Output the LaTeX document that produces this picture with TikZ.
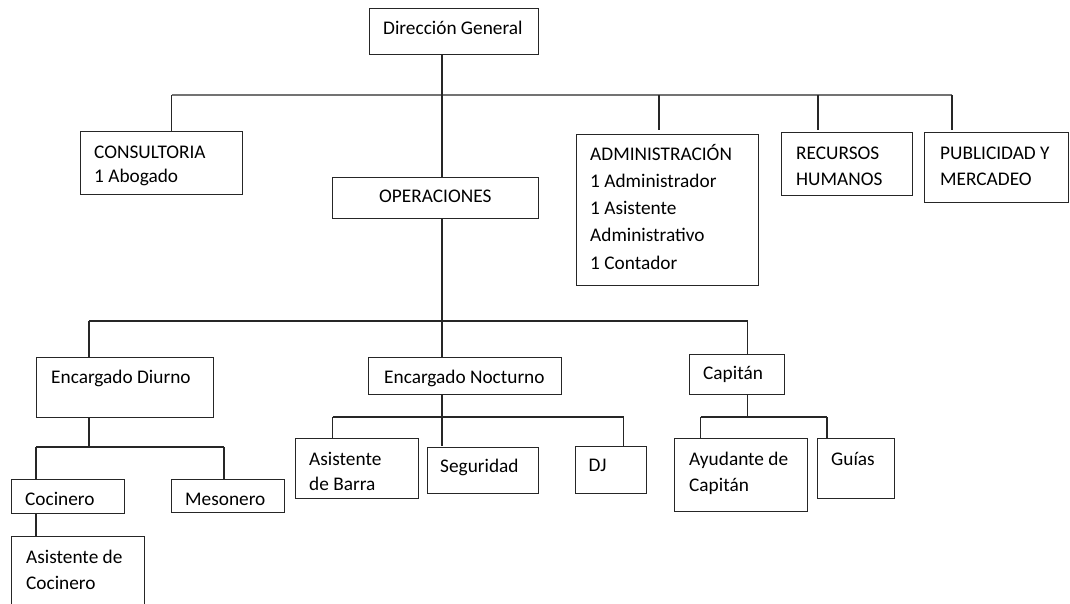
\documentclass[tikz,border=0pt]{standalone}
\usepackage{fontspec}
\setmainfont{Carlito}
\newcommand\orgfs{\fontsize{19.3}{26}\selectfont}
\begin{document}
\begin{tikzpicture}[x=1pt,y=-1pt,
  box/.style={draw=black!85, line width=1.3pt, inner sep=0pt, anchor=north west},
  txt/.style={anchor=base west, inner sep=0pt, align=left, font=\orgfs},
  conn/.style={line width=1.2pt, draw=black!85},
  bus/.style={line width=2pt, draw=black!55}]
\useasboundingbox (0,0) rectangle (1070,603);
% boxes
\node[box, minimum width=169pt, minimum height=46pt] (dg) at (369,8) {};
\node[box, minimum width=162pt, minimum height=63pt] (cons) at (80,131) {};
\node[box, minimum width=206pt, minimum height=41pt] (oper) at (332,177) {};
\node[box, minimum width=182pt, minimum height=151pt] (admin) at (576,134) {};
\node[box, minimum width=131pt, minimum height=63pt] (rh) at (781,132) {};
\node[box, minimum width=144pt, minimum height=70pt] (pym) at (924,132) {};
\node[box, minimum width=177pt, minimum height=60pt] (ed) at (36,357) {};
\node[box, minimum width=193pt, minimum height=37pt] (en) at (368,357) {};
\node[box, minimum width=95pt, minimum height=40pt] (cap) at (689,354) {};
\node[box, minimum width=113pt, minimum height=34pt] (coc) at (11,479) {};
\node[box, minimum width=113pt, minimum height=33pt] (mes) at (171,479) {};
\node[box, minimum width=133pt, minimum height=90pt] (adc) at (11,536) {};
\node[box, minimum width=123pt, minimum height=60pt] (adb) at (295,438) {};
\node[box, minimum width=111pt, minimum height=46pt] (seg) at (427,447) {};
\node[box, minimum width=71pt, minimum height=47pt] (dj) at (575,446) {};
\node[box, minimum width=133pt, minimum height=73pt] (ayc) at (674,438) {};
\node[box, minimum width=77pt, minimum height=60pt] (gui) at (817,438) {};
% texts (multi-line nodes: base = baseline of last line)
\node[txt] (dgT) at (383,34) {Dirección General};
\node[txt, font=\fontsize{19.3}{24.4}\selectfont] (consT) at (94,182.4) {CONSULTORIA\\1 Abogado};
\node[txt] (operT) at (379,202) {OPERACIONES};
\node[txt, font=\fontsize{19.3}{27.3}\selectfont] (adminT) at (590,269.2) {ADMINISTRACIÓN\\1 Administrador\\1 Asistente\\Administrativo\\1 Contador};
\node[txt] (rhT) at (796,185) {RECURSOS\\HUMANOS};
\node[txt] (pymT) at (940,185) {PUBLICIDAD Y\\MERCADEO};
\node[txt] (edT) at (51,383) {Encargado Diurno};
\node[txt] (enT) at (384,383) {Encargado Nocturno};
\node[txt] (capT) at (703,379) {Capitán};
\node[txt] (cocT) at (25,505) {Cocinero};
\node[txt] (mesT) at (185,505) {Mesonero};
\node[txt] (adcT) at (26,589) {Asistente de\\Cocinero};
\node[txt, font=\fontsize{19.3}{25.3}\selectfont] (adbT) at (309,490.3) {Asistente\\de Barra};
\node[txt] (segT) at (440,472) {Seguridad};
\node[txt] (djT) at (588.5,471) {DJ};
\node[txt] (aycT) at (689,491) {Ayudante de\\Capitán};
\node[txt] (guiT) at (831,465) {Guías};
% junction coordinates
\coordinate (jmain) at (442,95);
\coordinate (jcons) at (171.5,95);
\coordinate (jadmin) at (659,95);
\coordinate (jrh) at (818,95);
\coordinate (jpym) at (952,95);
\coordinate (jops) at (442,321);
\coordinate (jed) at (89,321);
\coordinate (jcap) at (747.5,321);
\coordinate (jedb) at (89,447);
\coordinate (jcoc) at (36,447);
\coordinate (jmes) at (224,447);
\coordinate (jenb) at (442,417);
\coordinate (jadb) at (332.5,417);
\coordinate (jdj) at (623.5,417);
\coordinate (jcapb) at (747.5,417);
\coordinate (jayc) at (700.5,417);
\coordinate (jgui) at (827,417);
% top level
\draw[bus] (jcons) -- (jpym);
\draw[conn] (jmain |- dg.south) -- (jmain |- oper.north);
\draw[conn] (jcons) -- (jcons |- cons.north);
\draw[conn] (jadmin) -- ([yshift=4pt]jadmin |- admin.north);
\draw[conn] (jrh) -- ([yshift=2pt]jrh |- rh.north);
\draw[conn] (jpym) -- ([yshift=2pt]jpym |- pym.north);
% operations
\draw[conn] (jops |- oper.south) -- (jops |- en.north);
\draw[conn] (jed) -- (jcap);
\draw[conn] (jed) -- (jed |- ed.north);
\draw[conn] (jcap) -- (jcap |- cap.north);
% encargado diurno
\draw[conn] (jedb |- ed.south) -- (jedb);
\draw[conn] (jcoc) -- (jmes);
\draw[conn] (jcoc) -- (jcoc |- coc.north);
\draw[conn] (jmes) -- (jmes |- mes.north);
\draw[conn] (jcoc |- coc.south) -- (jcoc |- adc.north);
% encargado nocturno
\draw[conn] (jenb |- en.south) -- (jenb);
\draw[conn] (jadb) -- (jdj);
\draw[conn] (jadb) -- (jadb |- adb.north);
\draw[conn] (jenb) -- ([yshift=1pt]jenb |- seg.north);
\draw[conn] (jdj) -- (jdj |- dj.north);
% capitan
\draw[conn] (jcapb |- cap.south) -- (jcapb);
\draw[conn] (jayc) -- (jgui);
\draw[conn] (jayc) -- (jayc |- ayc.north);
\draw[conn] (jgui) -- (jgui |- gui.north);
\end{tikzpicture}
\end{document}
